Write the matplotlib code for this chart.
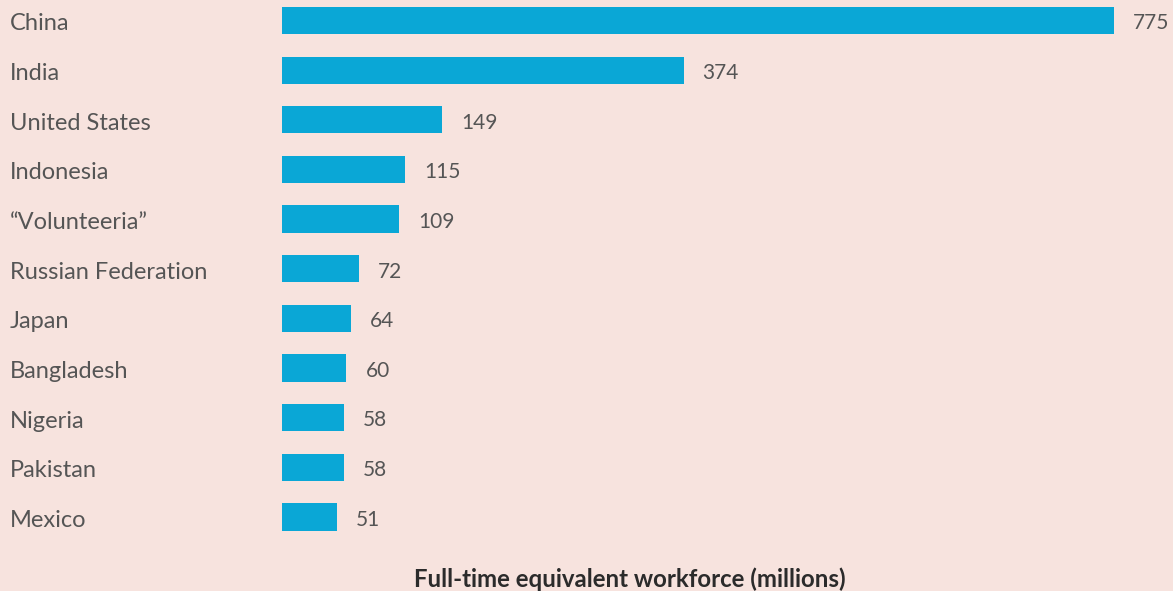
import matplotlib.pyplot as plt
from matplotlib import transforms

countries = ["China", "India", "United States", "Indonesia", "\u201cVolunteeria\u201d",
             "Russian Federation", "Japan", "Bangladesh", "Nigeria", "Pakistan", "Mexico"]
workforce = [775, 374, 149, 115, 109, 72, 64, 60, 58, 58, 51]

bg = "#F7E3DE"
barColor = "#0AA7D6"
textColor = "#555555"

plt.rcParams['font.family'] = ['Lato', 'DejaVu Sans']

W, H = 1173, 591
fig = plt.figure(figsize=(W / 100, H / 100), dpi=100, facecolor=bg)
ax = fig.add_axes([282 / W, 0, 832 / W, 1])
ax.set_facecolor(bg)

pos = list(range(len(countries)))
ax.barh(pos, workforce, height=0.55, color=barColor)
ax.set_xlim(0, 775)
ax.set_ylim(11.49, -0.413)
ax.axis("off")

labelTrans = transforms.blended_transform_factory(fig.transFigure, ax.transData)
shift = transforms.ScaledTranslation(0, -2.5 / 72, fig.dpi_scale_trans)
for i, (c, v) in enumerate(zip(countries, workforce)):
    ax.text(10 / W, i, c, transform=labelTrans + shift, ha="left", va="center",
            fontsize=17, color=textColor)
    ax.annotate(str(v), (v, i), xytext=(13.7, -2), textcoords="offset points",
                ha="left", va="center", fontsize=15, color=textColor)

fig.text(630 / W, 1 - 579 / H, "Full-time equivalent workforce (millions)",
         ha="center", va="center", fontsize=17.3, fontweight="bold", color="#2B2B2B")

fig.savefig("out.png", dpi=100, facecolor=bg)
